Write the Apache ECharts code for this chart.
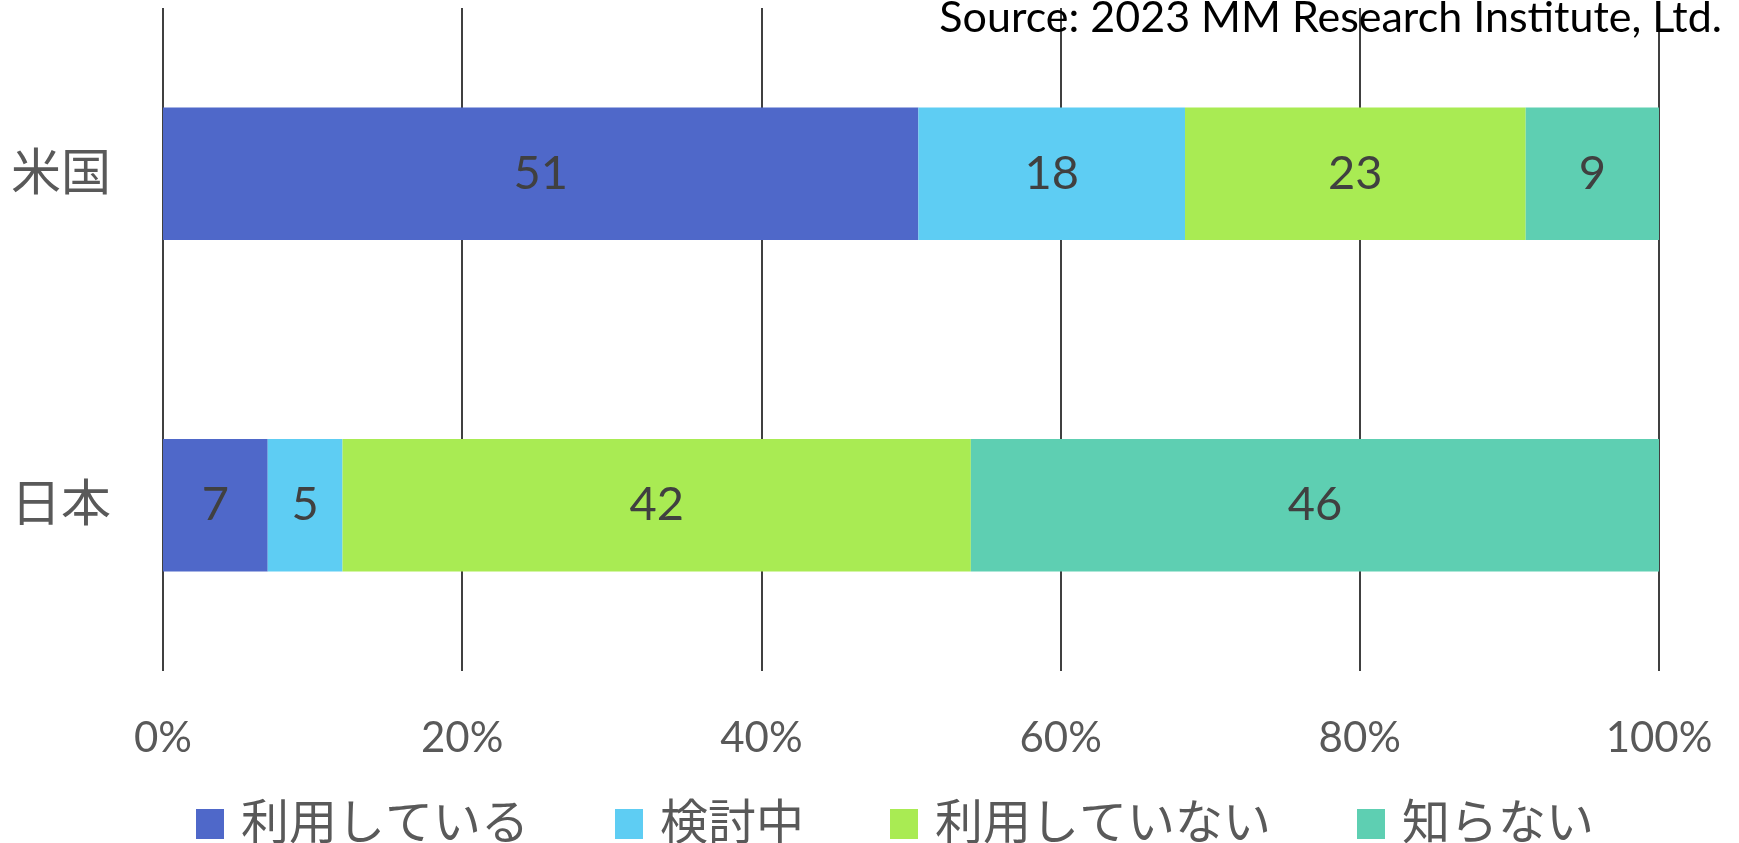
<!DOCTYPE html>
<html>
<head>
<meta charset="utf-8">
<script src="https://cdn.jsdelivr.net/npm/echarts@6/dist/echarts.min.js"></script>
<style>
  html, body { margin: 0; padding: 0; background: #fff; }
  #main { width: 1739px; height: 843px; }
</style>
</head>
<body>
<div id="main"></div>
<script>
var countries = ['日本', '米国'];
var seriesNames = ['利用している', '検討中', '利用していない', '知らない'];
var useNow = [7, 51];
var considering = [5, 18];
var notUsing = [42, 23];
var unknown = [46, 9];
var xTicks = [0, 20, 40, 60, 80, 100];
var colors = ['#4f68c9', '#5ecdf3', '#a9eb53', '#5ecfb2'];

var rows = [useNow, considering, notUsing, unknown];
var FONT = 'Lato, "Noto Sans CJK JP", sans-serif';

// 行ごとの合計で100%に正規化
var totals = countries.map(function (c, i) {
  return rows.reduce(function (s, r) { return s + r[i]; }, 0);
});

var myChart = echarts.init(document.getElementById('main'));

var series = rows.map(function (r, k) {
  return {
    name: seriesNames[k],
    type: 'bar',
    stack: 'all',
    barWidth: '40%',
    itemStyle: { color: colors[k] },
    label: {
      show: true,
      position: 'inside',
      color: '#404040',
      fontSize: 47,
      fontFamily: FONT,
      formatter: function (p) { return r[p.dataIndex]; }
    },
    data: r.map(function (v, i) { return v / totals[i] * 100; })
  };
});

myChart.setOption({
  animation: false,
  textStyle: { fontFamily: FONT },
  title: {
    text: 'Source: 2023 MM Research Institute, Ltd.',
    right: 12,
    top: -8,
    textStyle: { fontSize: 43, fontWeight: 'normal', color: '#000', fontFamily: FONT }
  },
  grid: { left: 163, right: 80, top: 8, bottom: 172 },
  legend: {
    left: 191,
    top: 795,
    itemWidth: 28,
    itemHeight: 30,
    itemGap: 86,
    icon: 'rect',
    textStyle: { fontSize: 48, color: '#595959', fontFamily: FONT, padding: [0, 0, 0, 12] },
    data: seriesNames
  },
  xAxis: {
    type: 'value',
    min: xTicks[0],
    max: xTicks[xTicks.length - 1],
    interval: 20,
    axisLine: { show: false },
    axisTick: { show: false },
    axisLabel: {
      margin: 46,
      fontSize: 42,
      color: '#595959',
      formatter: '{value}%'
    },
    splitLine: { show: true, lineStyle: { color: '#000', width: 1.5 } }
  },
  yAxis: {
    type: 'category',
    data: countries,
    axisLine: { show: false },
    axisTick: { show: false },
    axisLabel: { fontSize: 50, color: '#595959', margin: 52 }
  },
  series: series
});
</script>
</body>
</html>
